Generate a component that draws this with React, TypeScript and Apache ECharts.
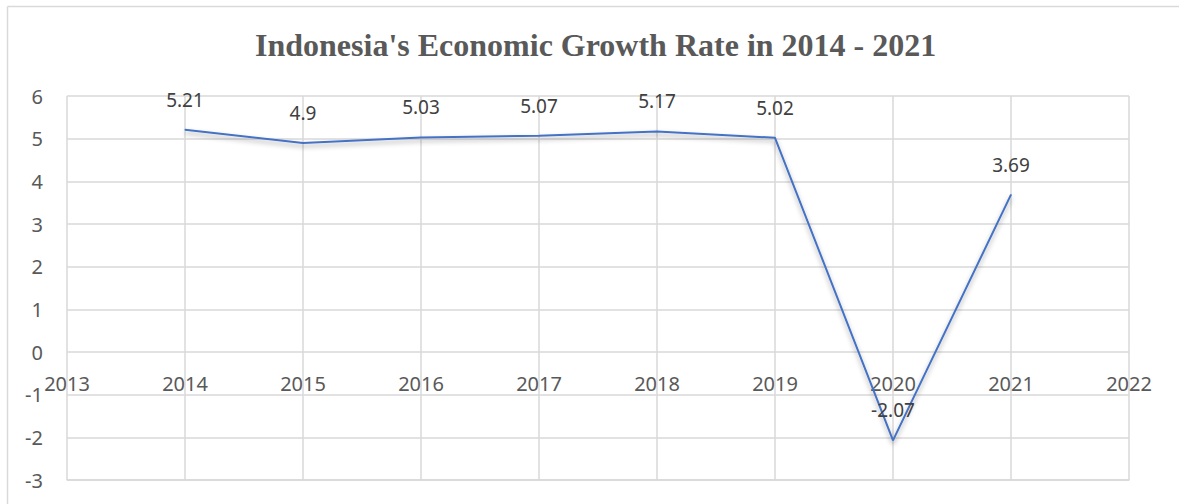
import React, { useEffect, useRef } from "react";
import * as echarts from "echarts";

const years = [2014, 2015, 2016, 2017, 2018, 2019, 2020, 2021];
const growth = [5.21, 4.9, 5.03, 5.07, 5.17, 5.02, -2.07, 3.69];
const titleText = "Indonesia's Economic Growth Rate in 2014 - 2021";

export default function App() {
  const ref = useRef<HTMLDivElement>(null);
  useEffect(() => {
    if (!ref.current) return;
    const chart = echarts.init(ref.current, null, { renderer: "svg" });
    const gridColor = "#d9d9d9";
    const labelColor = "#595959";
    chart.setOption({
      animation: false,
      backgroundColor: "#ffffff",
      title: {
        text: titleText,
        left: 250,
        top: 24,
        textStyle: {
          fontFamily: "Liberation Serif",
          fontWeight: "bold",
          fontSize: 32,
          color: "#595959",
        },
      },
      graphic: [
        { type: "line", shape: { x1: 7.5, y1: 6.5, x2: 1179, y2: 6.5 }, style: { stroke: gridColor, lineWidth: 1.5 } },
        { type: "line", shape: { x1: 7.5, y1: 6.5, x2: 7.5, y2: 504 }, style: { stroke: gridColor, lineWidth: 1.5 } },
      ],
      grid: { left: 67, right: 50, top: 96, bottom: 24, containLabel: false, outerBoundsMode: "none" },
      xAxis: {
        type: "value",
        position: "bottom",
        min: 2013,
        max: 2022,
        interval: 1,
        axisLine: { show: true, onZero: false, lineStyle: { color: gridColor, width: 1.5 } },
        axisTick: { show: false },
        axisLabel: {
          color: labelColor,
          fontSize: 20,
          fontFamily: "Noto Sans",
          margin: -107,
          showMinLabel: true,
          showMaxLabel: true,
          formatter: (v: number) => String(v),
        },
        splitLine: { show: true, lineStyle: { color: gridColor, width: 1.5 } },
      },
      yAxis: {
        type: "value",
        min: -3,
        max: 6,
        interval: 1,
        axisLine: { show: false, onZero: false },
        axisTick: { show: false },
        axisLabel: { color: labelColor, fontSize: 20, fontFamily: "Noto Sans", margin: 24 },
        splitLine: { show: true, lineStyle: { color: gridColor, width: 1.5 } },
      },
      series: [
        {
          type: "line",
          data: years.map((y, i) => [y, growth[i]]),
          symbol: "circle",
          symbolSize: 1,
          showSymbol: true,
          lineStyle: {
            color: "#4472C4",
            width: 2,
            shadowColor: "rgba(0,0,0,0.35)",
            shadowBlur: 5,
            shadowOffsetY: 3,
          },
          itemStyle: { color: "#4472C4" },
          label: {
            show: true,
            position: "top",
            distance: 20,
            color: "#404040",
            fontSize: 19,
            fontFamily: "Noto Sans",
            formatter: (p: any) => String(p.value[1]),
          },
        },
      ],
    });
    return () => chart.dispose();
  }, []);
  return (
    <div
      ref={ref}
      style={{ position: "fixed", left: 0, top: 0, width: 1179, height: 504 }}
    />
  );
}
